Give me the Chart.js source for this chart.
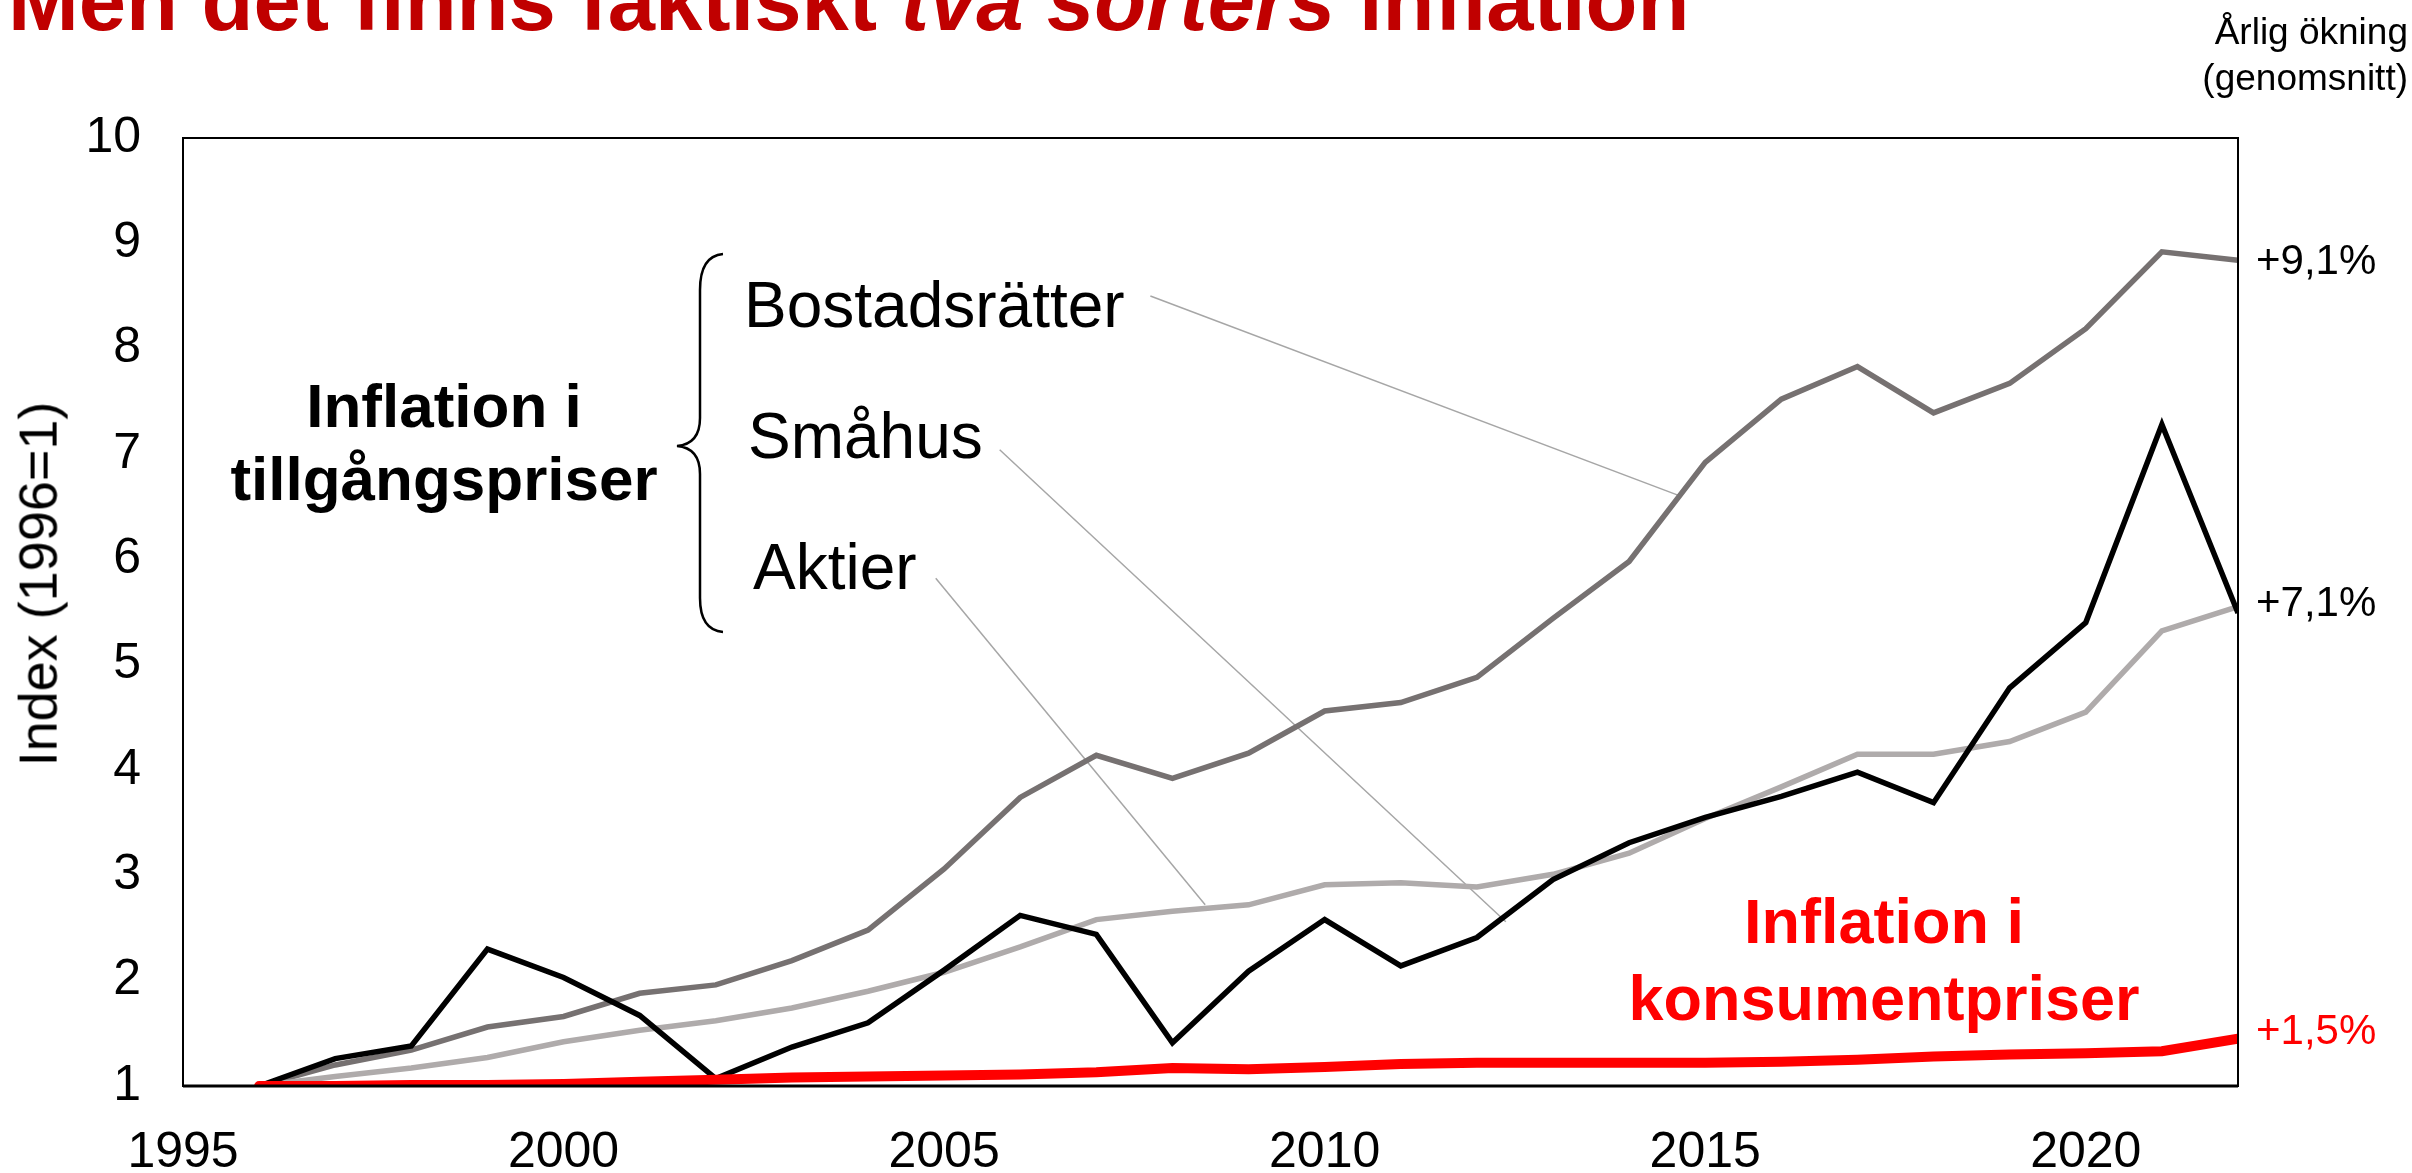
<!DOCTYPE html>
<html lang="sv">
<head>
<meta charset="utf-8">
<title>Två sorters inflation</title>
<script src="https://cdn.jsdelivr.net/npm/chart.js@4.4.1/dist/chart.umd.min.js"></script>
<style>
    html, body { margin: 0; padding: 0; background: #fff; overflow: hidden; }
    #wrap { position: relative; width: 2412px; height: 1173px; overflow: hidden;
            font-family: "Liberation Sans", Arial, sans-serif; }
    #myGraph { position: absolute; left: 0; top: 0; }
    .note { position: absolute; white-space: nowrap; line-height: 1.2; }
</style>
</head>
<body>
<div id="wrap">
    <canvas id="myGraph" width="2412" height="1173"></canvas>
</div>
<script>
// Data (index, 1996 = 1)
const years = [1996, 1997, 1998, 1999, 2000, 2001, 2002, 2003, 2004, 2005, 2006, 2007, 2008, 2009,
    2010, 2011, 2012, 2013, 2014, 2015, 2016, 2017, 2018, 2019, 2020, 2021, 2022];
const bostadsratter = [1.00, 1.20, 1.34, 1.56, 1.66, 1.88, 1.96, 2.19, 2.48, 3.06, 3.74, 4.14, 3.92, 4.16,
    4.56, 4.64, 4.88, 5.44, 5.98, 6.92, 7.52, 7.83, 7.39, 7.67, 8.19, 8.92, 8.84];
const smahus = [1.00, 1.09, 1.17, 1.27, 1.42, 1.53, 1.62, 1.74, 1.90, 2.08, 2.32, 2.58, 2.66, 2.72,
    2.91, 2.93, 2.89, 3.01, 3.21, 3.54, 3.84, 4.15, 4.15, 4.27, 4.55, 5.32, 5.55];
const aktier = [1.00, 1.26, 1.38, 2.30, 2.03, 1.67, 1.07, 1.37, 1.60, 2.10, 2.62, 2.44, 1.41, 2.09,
    2.58, 2.14, 2.41, 2.96, 3.31, 3.55, 3.75, 3.98, 3.69, 4.78, 5.40, 7.28, 5.49];
const kpi = [1.00, 1.00, 1.01, 1.01, 1.02, 1.04, 1.06, 1.08, 1.09, 1.10, 1.11, 1.13, 1.17, 1.16,
    1.18, 1.21, 1.22, 1.22, 1.22, 1.22, 1.23, 1.25, 1.28, 1.30, 1.31, 1.33, 1.45];

// Annual average growth shown at the right edge
const endLabels = ["+1,5%", "+7,1%", "+9,1%"];

// Leader lines from the series names, in chart units [year, index]
const leaders = [
    { from: [2007.71, 8.50], to: [2014.64, 6.61] },
    { from: [2005.73, 7.04], to: [2012.38, 2.56] },
    { from: [2004.89, 5.82], to: [2008.43, 2.72] },
];

const FONT = "'Liberation Sans', Arial, sans-serif";

// Text notes on top of the canvas (x, baseline in px)
const notes = [
    { html: "Men det finns faktiskt <i>två sorters</i> inflation", x: 8, base: 30, size: 85, bold: true, color: "#C00000" },
    { html: "Årlig ökning", x: 2408, base: 45, size: 37, align: "right" },
    { html: "(genomsnitt)", x: 2408, base: 91, size: 37, align: "right" },
    { html: "Inflation i", x: 444, base: 428, size: 62, bold: true, align: "center" },
    { html: "tillgångspriser", x: 444, base: 501, size: 62, bold: true, align: "center" },
    { html: "Bostadsrätter", x: 744, base: 328, size: 64 },
    { html: "Småhus", x: 748, base: 459, size: 64 },
    { html: "Aktier", x: 753, base: 590, size: 64 },
    { html: "Inflation i", x: 1884, base: 944, size: 63, bold: true, align: "center", color: "#FF0000" },
    { html: "konsumentpriser", x: 1884, base: 1021, size: 63, bold: true, align: "center", color: "#FF0000" },
];

const wrap = document.getElementById("wrap");

// Put one note in the page, top computed from the baseline
const addNote = (note) => {
    const div = document.createElement("div");
    div.className = "note";
    div.innerHTML = note.html;
    div.style.fontSize = note.size + "px";
    div.style.fontWeight = note.bold ? "bold" : "normal";
    div.style.color = note.color || "#000";
    div.style.top = (note.base - 0.9465 * note.size) + "px";
    if (note.align === "center") {
        div.style.left = note.x + "px";
        div.style.transform = "translateX(-50%)";
    } else if (note.align === "right") {
        div.style.right = (2412 - note.x) + "px";
    } else {
        div.style.left = note.x + "px";
    }
    wrap.appendChild(div);
};

// Vertical axis title, turned a quarter round about its centre
const addAxisTitle = (text, cx, cy, size) => {
    const div = document.createElement("div");
    div.className = "note";
    div.textContent = text;
    div.style.fontSize = size + "px";
    div.style.left = cx + "px";
    div.style.top = cy + "px";
    div.style.transform = "translate(-50%, -50%) rotate(-90deg)";
    wrap.appendChild(div);
};

const toPoints = (values) => values.map((v, i) => ({ x: years[i], y: v }));

// Leader lines and brace go under the series
const underPlugin = {
    id: "under",
    beforeDatasetsDraw(chart) {
        const { ctx, scales: { x, y } } = chart;
        ctx.save();
        ctx.strokeStyle = "#A6A6A6";
        ctx.lineWidth = 1.5;
        leaders.forEach((l) => {
            ctx.beginPath();
            ctx.moveTo(x.getPixelForValue(l.from[0]), y.getPixelForValue(l.from[1]));
            ctx.lineTo(x.getPixelForValue(l.to[0]), y.getPixelForValue(l.to[1]));
            ctx.stroke();
        });

        // curly brace in front of the three names
        ctx.strokeStyle = "#000";
        ctx.lineWidth = 2.5;
        ctx.beginPath();
        ctx.moveTo(723, 254);
        ctx.quadraticCurveTo(700, 256, 700, 290);
        ctx.lineTo(700, 418);
        ctx.quadraticCurveTo(700, 444, 677, 446);
        ctx.quadraticCurveTo(700, 448, 700, 474);
        ctx.lineTo(700, 598);
        ctx.quadraticCurveTo(700, 630, 723, 632);
        ctx.stroke();
        ctx.restore();
    },
    afterDatasetsDraw(chart) {
        const { ctx, chartArea: a } = chart;
        ctx.save();
        // frame round the plot
        ctx.strokeStyle = "#000";
        ctx.lineWidth = 2;
        ctx.strokeRect(a.left, a.top, a.right - a.left, a.bottom - a.top);
        ctx.lineWidth = 3;
        ctx.beginPath();
        ctx.moveTo(a.left, a.bottom);
        ctx.lineTo(a.right, a.bottom);
        ctx.stroke();

        // end labels next to the last point
        ctx.font = "42px " + FONT;
        ctx.textAlign = "left";
        ctx.textBaseline = "middle";
        chart.data.datasets.forEach((ds, i) => {
            if (!ds.endLabel) return;
            const pts = chart.getDatasetMeta(i).data;
            const last = pts[pts.length - 1];
            ctx.fillStyle = ds.endColor;
            ctx.fillText(ds.endLabel, a.right + 18, last.y + ds.endShift);
        });
        ctx.restore();
    },
};

Chart.defaults.font.family = FONT;
Chart.defaults.color = "#000";

const ctx = document.getElementById("myGraph").getContext("2d");

const myGraph = new Chart(ctx, {
    type: "line",
    data: {
        datasets: [
            {
                label: "Konsumentpriser",
                data: toPoints(kpi),
                borderColor: "#FF0000",
                borderWidth: 10,
                borderCapStyle: "round",
                endLabel: endLabels[0],
                endColor: "#FF0000",
                endShift: -6,
            },
            {
                label: "Aktier",
                data: toPoints(aktier),
                borderColor: "#000000",
                borderWidth: 5.5,
                endLabel: endLabels[1],
                endColor: "#000",
                endShift: -9,
            },
            {
                label: "Småhus",
                data: toPoints(smahus),
                borderColor: "#AFABAB",
                borderWidth: 5.5,
            },
            {
                label: "Bostadsrätter",
                data: toPoints(bostadsratter),
                borderColor: "#767171",
                borderWidth: 5.5,
                endLabel: endLabels[2],
                endColor: "#000",
                endShift: 2,
            },
        ],
    },
    options: {
        responsive: false,
        animation: false,
        layout: { padding: { top: 138, right: 174, left: 0, bottom: 0 } },
        elements: {
            point: { radius: 0 },
            line: { tension: 0, borderJoinStyle: "miter" },
        },
        plugins: {
            legend: { display: false },
            tooltip: { enabled: false },
        },
        scales: {
            x: {
                type: "linear",
                min: 1995,
                max: 2022,
                grid: { display: false, drawTicks: false },
                border: { display: false },
                ticks: {
                    stepSize: 5,
                    includeBounds: false,
                    padding: 37,
                    maxRotation: 0,
                    autoSkip: false,
                    font: { size: 50 },
                    callback: (value) => String(value),
                },
                afterFit: (scale) => {
                    scale.height = 87;
                },
            },
            y: {
                min: 1,
                max: 10,
                grid: { display: false, drawTicks: false },
                border: { display: false },
                ticks: {
                    stepSize: 1,
                    padding: 42,
                    font: { size: 50 },
                },
                afterFit: (scale) => {
                    scale.width = 183;
                },
            },
        },
    },
    plugins: [underPlugin],
});

notes.forEach(addNote);
addAxisTitle("Index (1996=1)", 38, 584, 54);
</script>
</body>
</html>
